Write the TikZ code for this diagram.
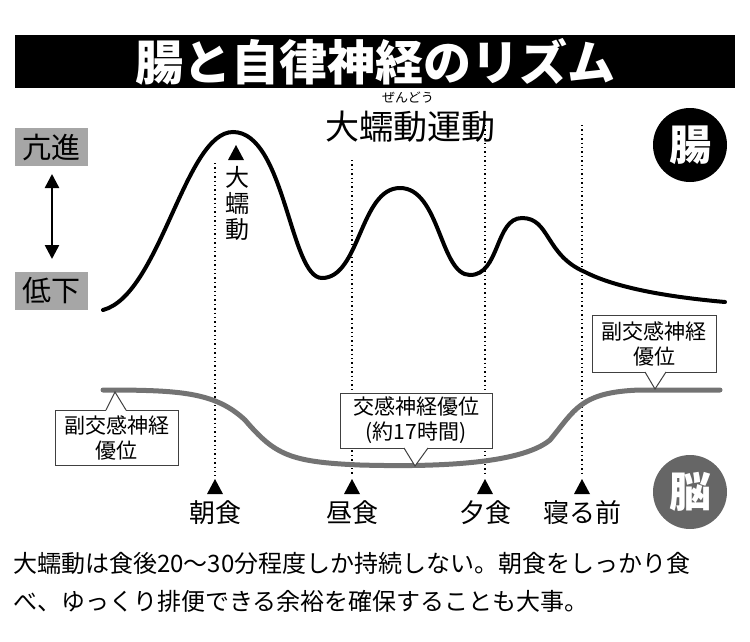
\documentclass[tikz,border=0pt]{standalone}
\usepackage{fontspec}
\setmainfont{Noto Sans CJK JP}
\usetikzlibrary{arrows.meta}
\begin{document}
\begin{tikzpicture}[x=1pt,y=-1pt,
 lbl/.style={inner sep=0pt,font=\fontsize{26}{26}\selectfont},
 boxtxt/.style={align=center,inner sep=0pt,font=\fontsize{21}{25}\selectfont},
 box/.style={draw=black!75,fill=white,line width=1pt},
 dots/.style={line width=1.4pt,dash pattern=on 1.4pt off 3pt}]
\useasboundingbox (0,0) rectangle (750,641);
\fill[black] (15,35) rectangle (735,88);
\node[text=white,font=\fontsize{48}{48}\selectfont\bfseries] (title) at (375,62) {腸と自律神経のリズム};
\node[font=\fontsize{13}{13}\selectfont] (furi) at (408,98) {ぜんどう};
\node[font=\fontsize{34}{34}\selectfont] (main) at (410,127) {大蠕動運動};
\node[fill=black!35,minimum width=73pt,minimum height=38pt,font=\fontsize{29}{29}\selectfont] (hi) at (51,147) {亢進};
\node[fill=black!35,minimum width=73pt,minimum height=38pt,font=\fontsize{29}{29}\selectfont] (lo) at (51,291) {低下};
\coordinate (a1) at (52,174); \coordinate (a2) at (52,259);
\draw[line width=2.5pt,{Triangle[length=14pt,width=14pt]}-{Triangle[length=14pt,width=14pt]}] (a1) -- (a2);
\node[circle,fill=black,minimum size=74pt,text=white,font=\fontsize{42}{42}\selectfont\bfseries] (cho) at (690,145) {腸};
\node[circle,fill=black!60,minimum size=74pt,text=white,font=\fontsize{42}{42}\selectfont\bfseries] (nou) at (690,492) {脳};
% dotted lines
\foreach \x/\t in {215/163,352/160,485/125,582/125}{
 \draw[dots] (\x,\t) -- (\x,476);
 \fill (\x-8,494) -- (\x+8,494) -- (\x,479) -- cycle;}
\node[lbl] (m1) at (215,513) {朝食};
\node[lbl] (m2) at (352,513) {昼食};
\node[lbl] (m3) at (485,513) {夕食};
\node[lbl] (m4) at (582,513) {寝る前};
% vertical label
\fill (228,160) -- (244,160) -- (236,145) -- cycle;
\node[align=center,font=\fontsize{24}{26}\selectfont,inner sep=0pt] (dz) at (237,203) {大\\蠕\\動};
% gut curve
\draw[line width=4pt,line cap=round] (103,310) .. controls (160,295) and (185,132) .. (233,132)
 .. controls (285,132) and (290,278) .. (322,278)
 .. controls (360,278) and (360,188) .. (400,188)
 .. controls (440,188) and (440,275) .. (470,275)
 .. controls (500,275) and (495,218) .. (522,218)
 .. controls (550,218) and (545,255) .. (585,272)
 .. controls (620,290) and (680,298) .. (725,302);
% nerve curve
\draw[line width=5pt,black!55,line cap=round] (103,390) .. controls (180,390) and (215,392) .. (245,420)
 .. controls (275,455) and (290,462) .. (360,465)
 .. controls (430,467) and (520,465) .. (550,440)
 .. controls (575,410) and (580,392) .. (640,390) -- (720,390);
% callouts
\draw[box] (55,410) rectangle (178,465);
\fill[white] (106,411) -- (115,392) -- (126,411) -- cycle;
\draw[draw=black!75,line width=1pt] (106,410) -- (115,392) -- (126,410);
\node[boxtxt] (c1) at (116.5,437.5) {副交感神経\\優位};
\draw[box] (340,393) rectangle (492,448);
\fill[white] (404,447) -- (415,466) -- (428,447) -- cycle;
\draw[draw=black!75,line width=1pt] (404,448) -- (415,466) -- (428,448);
\node[boxtxt] (c2) at (416,420.5) {交感神経優位\\(約17時間)};
\draw[box] (592,315) rectangle (716,372);
\fill[white] (645,371) -- (655,389) -- (666,371) -- cycle;
\draw[draw=black!75,line width=1pt] (645,372) -- (655,389) -- (666,372);
\node[boxtxt] (c3) at (654,343.5) {副交感神経\\優位};
\node[anchor=west,align=left,inner sep=0pt,font=\fontsize{24}{38}\selectfont] (note) at (13,582) {大蠕動は食後20〜30分程度しか持続しない。朝食をしっかり食\\べ、ゆっくり排便できる余裕を確保することも大事。};
\end{tikzpicture}
\end{document}
